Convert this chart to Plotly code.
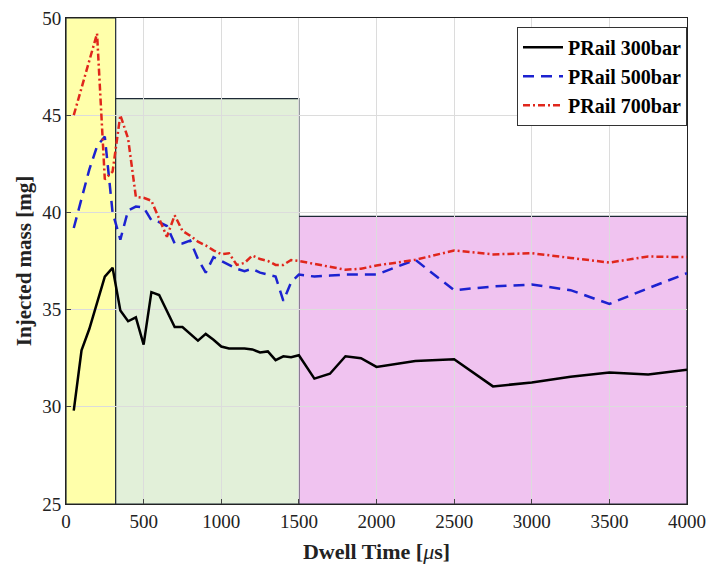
import plotly.graph_objects as go

dwell = [50, 100, 150, 200, 250, 300, 350, 400, 450, 500, 550, 600, 650, 700, 750,
         800, 850, 900, 950, 1000, 1050, 1100, 1150, 1200, 1250, 1300, 1350, 1400,
         1450, 1500, 1600, 1700, 1800, 1900, 2000, 2250, 2500, 2750, 3000, 3250,
         3500, 3750, 4000]

mass_300 = [29.8, 32.9, 34.0, 35.3, 36.7, 37.15, 34.95, 34.4, 34.6, 33.2, 35.9, 35.75,
            34.9, 34.1, 34.1, 33.75, 33.4, 33.75, 33.45, 33.1, 33.0, 33.0, 33.0, 32.95,
            32.8, 32.85, 32.4, 32.6, 32.55, 32.65, 31.45, 31.7, 32.6, 32.5, 32.05,
            32.35, 32.45, 31.05, 31.25, 31.55, 31.77, 31.66, 31.9]

mass_500 = [39.2, 40.7, 42.2, 43.4, 43.9, 40.0, 38.6, 40.1, 40.3, 40.25, 39.6, 39.5,
            39.3, 38.4, 38.4, 38.55, 37.6, 36.9, 37.7, 37.5, 37.3, 37.1, 36.98, 37.1,
            36.9, 36.8, 36.7, 35.45, 36.4, 36.8, 36.7, 36.75, 36.8, 36.8, 36.8,
            37.56, 36.0, 36.19, 36.29, 36.0, 35.29, 36.1, 36.87]

mass_700 = [45.0, 46.4, 47.8, 49.2, 41.7, 42.1, 45.0, 43.8, 40.8, 40.75, 40.6, 39.7,
            38.75, 39.85, 39.05, 38.8, 38.5, 38.3, 38.05, 37.85, 37.9, 37.3, 37.4, 37.78,
            37.6, 37.5, 37.3, 37.3, 37.55, 37.5, 37.35, 37.2, 37.05, 37.1, 37.27,
            37.56, 38.04, 37.84, 37.9, 37.66, 37.42, 37.73, 37.7]

series_names = ["PRail 300bar", "PRail 500bar", "PRail 700bar"]

# shaded regimes: (x0, x1, top)
region_x0 = [0, 320, 1500]
region_x1 = [320, 1500, 4000]
region_top = [50, 45.85, 39.8]
region_fill = ["#FFFFAA", "#E2F0D9", "#F0C3F0"]

x_ticks = [0, 500, 1000, 1500, 2000, 2500, 3000, 3500, 4000]
y_ticks = [25, 30, 35, 40, 45, 50]

fig = go.Figure()

for x0, x1, top, col in zip(region_x0, region_x1, region_top, region_fill):
    fig.add_shape(type="rect", xref="x", yref="y", x0=x0, x1=x1, y0=25, y1=top,
                  fillcolor=col, line=dict(color="#1e2a36", width=1.2), layer="below")

fig.add_trace(go.Scatter(x=dwell, y=mass_300, mode="lines", name=series_names[0],
                         line=dict(color="black", width=2.5)))
fig.add_trace(go.Scatter(x=dwell, y=mass_500, mode="lines", name=series_names[1],
                         line=dict(color="#1c22d0", width=2.5, dash="11px,7px")))
fig.add_trace(go.Scatter(x=dwell, y=mass_700, mode="lines", name=series_names[2],
                         line=dict(color="#e0261c", width=2.5, dash="7px,3px,2px,3px")))

serif = "Liberation Serif, Times New Roman, serif"

fig.update_layout(
    width=709, height=565,
    margin=dict(l=66, r=22, t=18, b=61),
    paper_bgcolor="white", plot_bgcolor="white",
    font=dict(family=serif, size=19, color="#222"),
    showlegend=True,
    legend=dict(x=1, y=0.982, xanchor="right", yanchor="top",
                xref="paper", yref="paper",
                bgcolor="white", bordercolor="#333", borderwidth=1,
                font=dict(family=serif, size=20, color="black", weight="bold"),
                tracegroupgap=0, itemwidth=40),
    xaxis=dict(range=[0, 4000], tickvals=x_ticks, showgrid=True, automargin=False,
               gridcolor="#dcdcdc", gridwidth=1, zeroline=False,
               showline=True, linecolor="#222", linewidth=1, mirror=True,
               ticks="inside", ticklen=5, tickcolor="#444",
               tickfont=dict(family=serif, size=19, color="#222"),
               title=dict(text="<b>Dwell Time [</b><i>μ</i><b>s]</b>",
                          font=dict(family=serif, size=22, color="#222"), standoff=12)),
    yaxis=dict(range=[25, 50], tickvals=y_ticks, showgrid=True, automargin=False,
               gridcolor="#dcdcdc", gridwidth=1, zeroline=False,
               showline=True, linecolor="#222", linewidth=1, mirror=True,
               ticks="inside", ticklen=5, tickcolor="#444",
               tickfont=dict(family=serif, size=19, color="#222"),
               title=dict(text="<b>Injected mass [mg]</b>",
                          font=dict(family=serif, size=21, color="#222"), standoff=4)),
)

fig.write_html("out.html")
